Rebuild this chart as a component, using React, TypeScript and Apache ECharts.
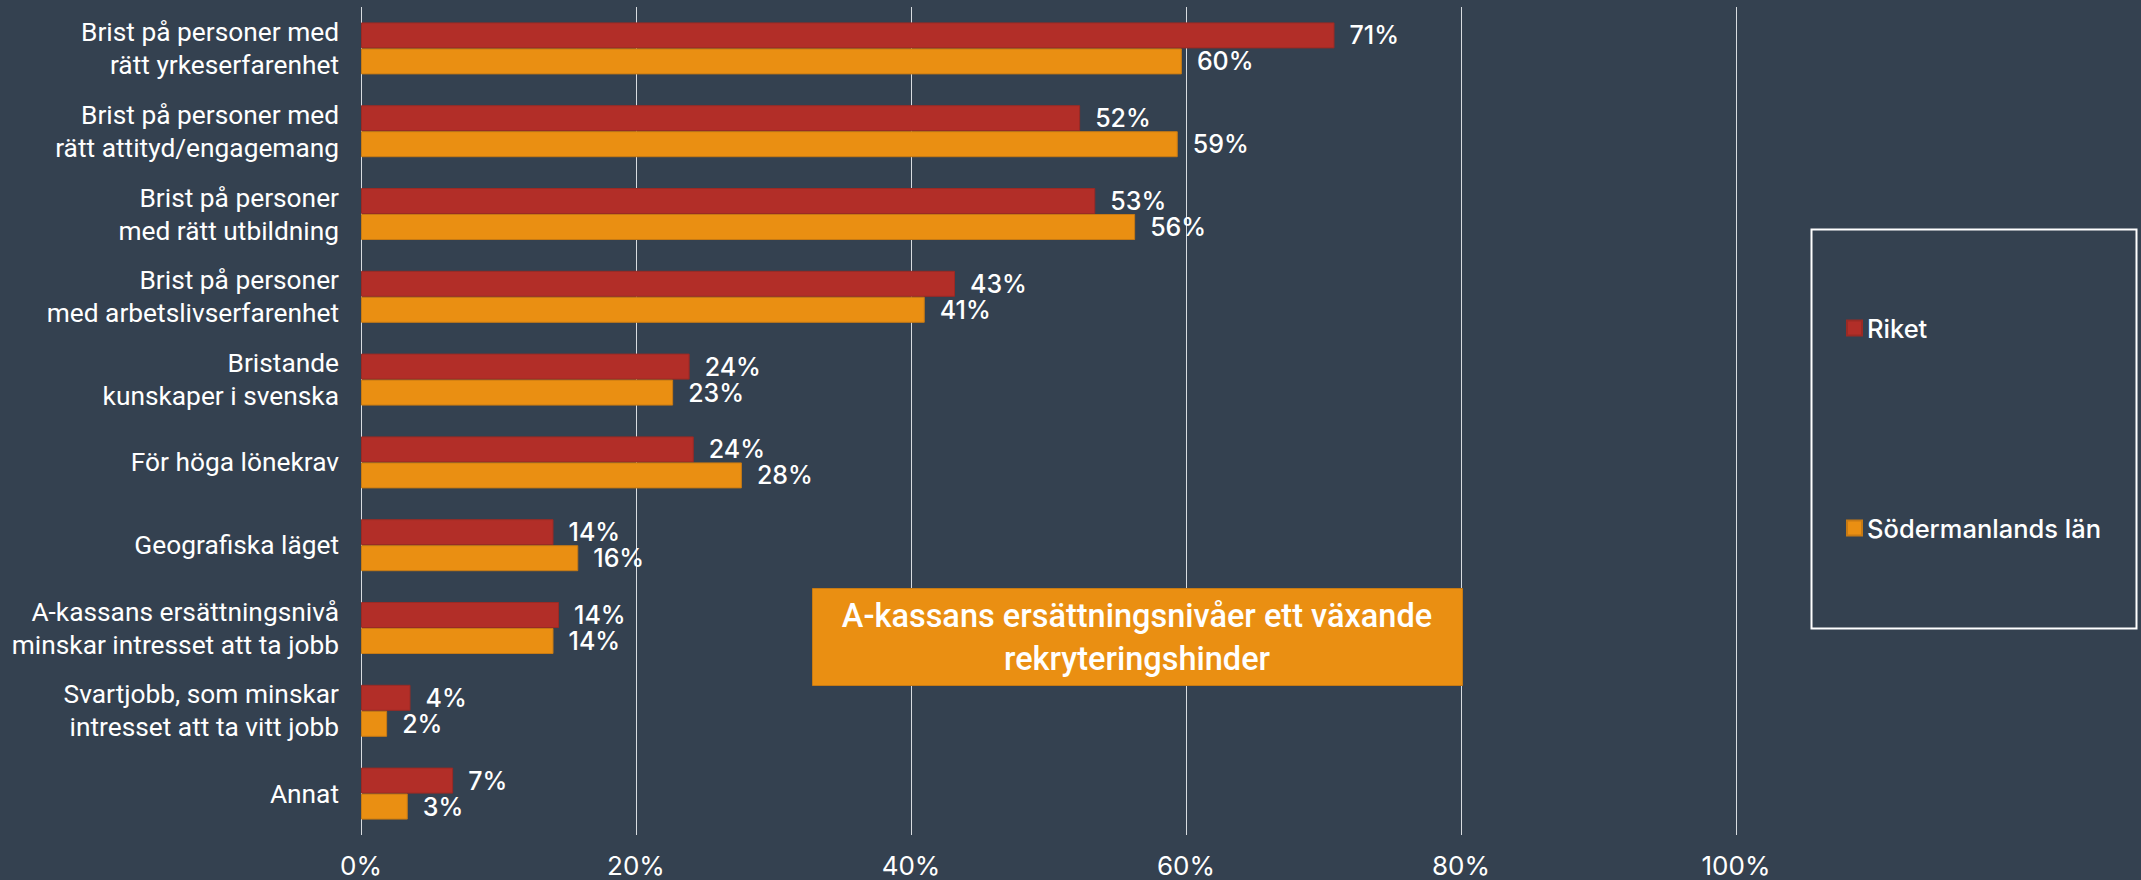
import React, { useEffect, useRef } from "react";
import * as echarts from "echarts";

const categories = [
  "Brist på personer med\nrätt yrkeserfarenhet",
  "Brist på personer med\nrätt attityd/engagemang",
  "Brist på personer\nmed rätt utbildning",
  "Brist på personer\nmed arbetslivserfarenhet",
  "Bristande\nkunskaper i svenska",
  "För höga lönekrav",
  "Geografiska läget",
  "A-kassans ersättningsnivå\nminskar intresset att ta jobb",
  "Svartjobb, som minskar\nintresset att ta vitt jobb",
  "Annat",
];
const riket = [70.8, 52.3, 53.4, 43.2, 23.9, 24.2, 14.0, 14.4, 3.6, 6.7];
const sodermanland = [59.7, 59.4, 56.3, 41.0, 22.7, 27.7, 15.8, 14.0, 1.9, 3.4];
const seriesNames = ["Riket", "Södermanlands län"];
const xTicks = { min: 0, max: 100, interval: 20 };
const annotation = "A-kassans ersättningsnivåer ett växande\nrekryteringshinder";

const BG = "#344150";
const RED = "#B22E28";
const ORANGE = "#EA8F12";

export default function App() {
  const ref = useRef<HTMLDivElement>(null);
  useEffect(() => {
    if (!ref.current) return;
    const chart = echarts.init(ref.current, undefined, { renderer: "svg" });
    const labelStyle = {
      show: true,
      position: "right" as const,
      distance: 15,
      color: "#ffffff",
      fontFamily: "Inter",
      fontWeight: 500,
      fontSize: 25,
      lineHeight: 24,
      formatter: (p: any) => Math.round(p.value) + "%",
    };
    chart.setOption({
      animation: false,
      backgroundColor: BG,
      grid: { left: 361, right: 405, top: 7, bottom: 45, containLabel: false },
      xAxis: {
        type: "value",
        min: xTicks.min,
        max: xTicks.max,
        interval: xTicks.interval,
        axisLine: { show: false },
        axisTick: { show: false },
        splitLine: { show: true, lineStyle: { color: "#D8DCE0", width: 1 } },
        axisLabel: {
          formatter: "{value}%",
          color: "#ffffff",
          fontFamily: "Inter",
          fontSize: 26,
          lineHeight: 22,
          margin: 19,
        },
      },
      yAxis: {
        type: "category",
        data: categories,
        inverse: true,
        axisLine: { show: false },
        axisTick: { show: false },
        splitLine: { show: false },
        axisLabel: {
          color: "#ffffff",
          fontFamily: "Roboto",
          fontSize: 26.3,
          lineHeight: 33,
          align: "right",
          margin: 22,
        },
      },
      legend: {
        data: seriesNames,
        orient: "vertical",
        left: 1846,
        top: 315,
        padding: 0,
        itemGap: 174,
        itemWidth: 15,
        itemHeight: 15,
        icon: "rect",
        textStyle: {
          color: "#ffffff",
          fontFamily: "Inter",
          fontSize: 25.5,
          fontWeight: 500,
          lineHeight: 24,
        },
      },
      series: [
        {
          name: seriesNames[0],
          type: "bar",
          data: riket,
          barWidth: 26,
          barGap: "0%",
          itemStyle: { color: RED, borderColor: "#9A2A24", borderWidth: 1 },
          label: labelStyle,
        },
        {
          name: seriesNames[1],
          type: "bar",
          data: sodermanland,
          barWidth: 26,
          barGap: "0%",
          itemStyle: { color: ORANGE, borderColor: "#C77A14", borderWidth: 1 },
          label: labelStyle,
        },
      ],
      graphic: [
        {
          type: "rect",
          left: 1809,
          top: 227,
          shape: { width: 325, height: 399 },
          style: { fill: "none", stroke: "#ffffff", lineWidth: 2 },
          z: 100,
        },
        {
          type: "rect",
          left: 812,
          top: 588,
          shape: { width: 650, height: 97 },
          style: { fill: ORANGE, stroke: "#C77A14", lineWidth: 1 },
          z: 100,
        },
        {
          type: "text",
          x: 1137,
          y: 637,
          z: 101,
          style: {
            text: annotation,
            fill: "#ffffff",
            fontFamily: "Roboto",
            fontWeight: 500,
            fontSize: 32.5,
            lineHeight: 43,
            align: "center",
            verticalAlign: "middle",
          },
        },
      ],
    });
    return () => chart.dispose();
  }, []);
  return (
    <div
      ref={ref}
      style={{ position: "fixed", left: 0, top: 0, width: 2141, height: 880, background: BG }}
    />
  );
}
